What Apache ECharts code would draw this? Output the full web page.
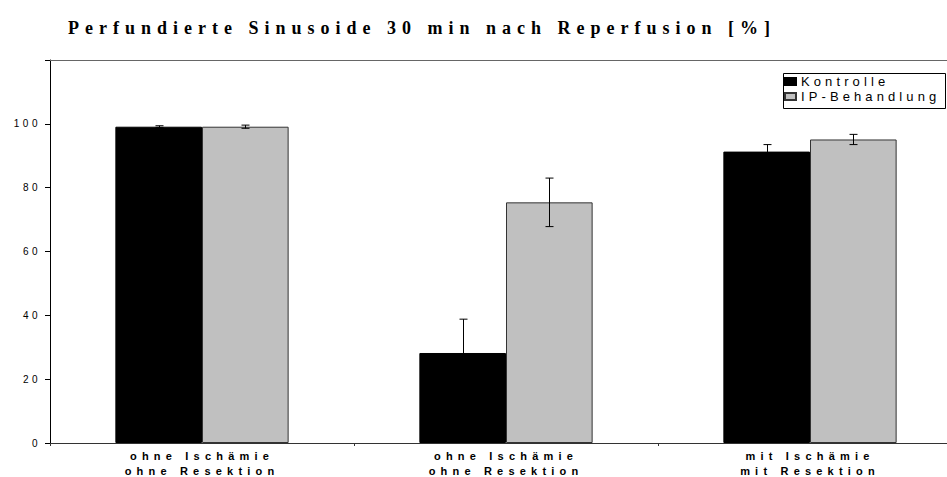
<!DOCTYPE html>
<html>
<head>
<meta charset="utf-8">
<script src="https://cdn.jsdelivr.net/npm/echarts@6/dist/echarts.min.js"></script>
<style>
  html, body { margin: 0; padding: 0; background: #fff; overflow: hidden; }
  #chart { width: 947px; height: 477px; overflow: hidden; }
  /* wide tracking, as in the printed figure */
  #chart text[style*="Serif"] { letter-spacing: 6px; }
  #chart text[style*="11px"] { letter-spacing: 5.2px; }
  #chart text[style*="10px"] { letter-spacing: 3.5px; }
  #chart text[style*="13px"] { letter-spacing: 4.1px; }
</style>
</head>
<body>
<div id="chart"></div>
<script>
// Perfused sinusoids 30 min after reperfusion, mean with error
const categories = [
  'ohne Ischämie\nohne Resektion',
  'ohne Ischämie\nohne Resektion',
  'mit Ischämie\nmit Resektion'
];
const seriesNames = ['Kontrolle', 'IP-Behandlung'];
const kontrolle = [99.1, 28.2, 91.3];
const kontrolleErr = [0.3, 10.6, 2.2];
const ipBehandlung = [99.1, 75.4, 95.1];
const ipBehandlungErr = [0.5, 7.6, 1.6];
const yAxisMax = 120;
const yAxisStep = 20;
const yLabelMax = 100;

const CATEGORY_GAP = 0.43;

function errorData(values, errs) {
  return values.map((v, i) => [i, v, errs[i]]);
}

function errorBarRenderer(side) {
  return function (params, api) {
    const idx = api.value(0);
    const v = api.value(1);
    const e = api.value(2);
    const band = api.size([1, 0])[0];
    const barW = band * (1 - CATEGORY_GAP) / 2;
    const x = Math.round(api.coord([idx, v])[0] + side * barW / 2) + 0.5;
    const yTop = api.coord([idx, v + e])[1];
    const yBot = api.coord([idx, v - e])[1];
    const cap = 4;
    const style = { stroke: '#000', lineWidth: 1 };
    return {
      type: 'group',
      children: [
        { type: 'line', shape: { x1: x, y1: yTop, x2: x, y2: yBot }, style },
        { type: 'line', shape: { x1: x - cap, y1: yTop, x2: x + cap, y2: yTop }, style },
        { type: 'line', shape: { x1: x - cap, y1: yBot, x2: x + cap, y2: yBot }, style }
      ]
    };
  };
}

const chart = echarts.init(document.getElementById('chart'), null, { renderer: 'svg' });

chart.setOption({
  animation: false,
  title: {
    text: 'Perfundierte Sinusoide 30 min nach Reperfusion [%]',
    left: 63,
    top: 14,
    textStyle: {
      fontFamily: '"Liberation Serif"',
      fontWeight: 'bold',
      fontSize: 18,
      color: '#000'
    }
  },
  legend: {
    orient: 'vertical',
    left: 784,
    top: 75,
    itemWidth: 11,
    itemHeight: 7,
    itemGap: 2,
    padding: 0,
    icon: 'rect',
    data: seriesNames,
    textStyle: {
      fontFamily: '"Liberation Sans"',
      fontSize: 13,
      color: '#000'
    }
  },
  graphic: [{
    type: 'rect',
    left: 781,
    top: 71,
    shape: { width: 162, height: 35 },
    style: { fill: 'none', stroke: '#000', lineWidth: 1 },
    z: 10
  }],
  grid: {
    left: 50,
    top: 60,
    width: 912,
    height: 383,
    outerBoundsMode: 'none',
    containLabel: false,
    show: false
  },
  xAxis: [
    {
      type: 'category',
      data: categories,
      axisLine: { lineStyle: { color: '#333', width: 1 } },
      axisTick: { show: true, length: 3, lineStyle: { color: '#333' } },
      axisLabel: {
        fontFamily: '"Liberation Sans"',
        fontWeight: 'bold',
        fontSize: 11,
        color: '#000',
        lineHeight: 15,
        margin: 5
      }
    },
    {
      // upper frame line of the plot area
      type: 'category',
      position: 'top',
      data: categories,
      axisLine: { lineStyle: { color: '#666', width: 1 } },
      axisTick: { show: false },
      axisLabel: { show: false }
    }
  ],
  yAxis: {
    type: 'value',
    min: 0,
    max: yAxisMax,
    interval: yAxisStep,
    splitLine: { show: false },
    axisLine: { show: true, lineStyle: { color: '#000', width: 1 } },
    axisTick: { show: true, length: 5, lineStyle: { color: '#000' } },
    axisLabel: {
      fontFamily: '"Liberation Sans"',
      fontSize: 10,
      color: '#000',
      margin: 9,
      formatter: v => (v <= yLabelMax ? String(v) : '')
    }
  },
  series: [
    {
      name: seriesNames[0],
      type: 'bar',
      data: kontrolle,
      barGap: '0%',
      barCategoryGap: (CATEGORY_GAP * 100) + '%',
      itemStyle: { color: '#000', borderColor: '#000', borderWidth: 1 }
    },
    {
      name: seriesNames[1],
      type: 'bar',
      data: ipBehandlung,
      barGap: '0%',
      barCategoryGap: (CATEGORY_GAP * 100) + '%',
      itemStyle: { color: '#c0c0c0', borderColor: '#333', borderWidth: 1 }
    },
    {
      type: 'custom',
      data: errorData(kontrolle, kontrolleErr),
      encode: { x: 0, y: 1 },
      renderItem: errorBarRenderer(-1),
      z: 5,
      silent: true
    },
    {
      type: 'custom',
      data: errorData(ipBehandlung, ipBehandlungErr),
      encode: { x: 0, y: 1 },
      renderItem: errorBarRenderer(1),
      z: 5,
      silent: true
    }
  ]
});
</script>
</body>
</html>
